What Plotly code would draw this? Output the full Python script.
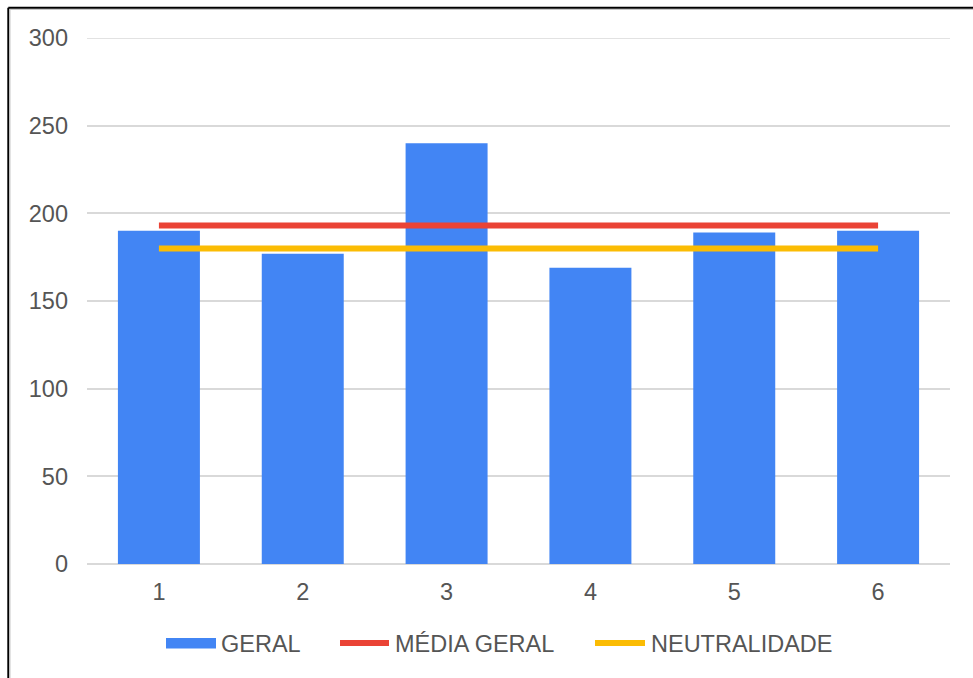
import plotly.graph_objects as go

categories = [1, 2, 3, 4, 5, 6]
geral = [190, 177, 240, 169, 189, 190]
media_geral = [193, 193, 193, 193, 193, 193]
neutralidade = [180, 180, 180, 180, 180, 180]
y_ticks = [0, 50, 100, 150, 200, 250, 300]

BLUE = "#4285F4"
RED = "#EA4335"
YELLOW = "#FBBC04"
TEXT = "#555555"
GRID = "#d9d9d9"
FONT = "Liberation Sans, Arial, sans-serif"

W, H = 973, 678
L, R, T, B = 87, 23, 38, 114
PW, PH = W - L - R, H - T - B


def px(x):
    return (x - L) / PW


def py(y):
    return (H - B - y) / PH


fig = go.Figure()
fig.add_trace(go.Bar(x=categories, y=geral, name="GERAL", marker_color=BLUE,
                     marker_line_width=0, showlegend=False))
fig.add_trace(go.Scatter(x=categories, y=media_geral, name="MÉDIA GERAL", mode="lines",
                         line=dict(color=RED, width=6), showlegend=False))
fig.add_trace(go.Scatter(x=categories, y=neutralidade, name="NEUTRALIDADE", mode="lines",
                         line=dict(color=YELLOW, width=6), showlegend=False))

shapes = [
    # top gridline (at range edge)
    dict(type="line", xref="paper", yref="y", x0=0, x1=1, y0=y_ticks[-1], y1=y_ticks[-1],
         line=dict(color=GRID, width=1.5), layer="below"),
    # frame (top and left border of the screenshot)
    dict(type="line", xref="paper", yref="paper", x0=px(8.3), x1=px(W + 5), y0=py(7.7), y1=py(7.7),
         line=dict(color="#000000", width=2)),
    dict(type="line", xref="paper", yref="paper", x0=px(8.3), x1=px(8.3), y0=py(7.7), y1=py(H + 5),
         line=dict(color="#000000", width=2)),
    dict(type="line", xref="paper", yref="paper", x0=px(10), x1=px(W + 5), y0=py(9.5), y1=py(9.5),
         line=dict(color="#c8c8c8", width=1)),
    dict(type="line", xref="paper", yref="paper", x0=px(10), x1=px(10), y0=py(9.5), y1=py(H + 5),
         line=dict(color="#c8c8c8", width=1)),
    # legend swatches
    dict(type="rect", xref="paper", yref="paper", x0=px(166), x1=px(216), y0=py(638), y1=py(648.5),
         fillcolor=BLUE, line=dict(width=0)),
    dict(type="line", xref="paper", yref="paper", x0=px(340), x1=px(389), y0=py(643), y1=py(643),
         line=dict(color=RED, width=6)),
    dict(type="line", xref="paper", yref="paper", x0=px(595), x1=px(645), y0=py(643), y1=py(643),
         line=dict(color=YELLOW, width=6)),
]

annotations = []
for label, xpos in [("GERAL", 219), ("MÉDIA GERAL", 393), ("NEUTRALIDADE", 649)]:
    annotations.append(dict(text=label, xref="paper", yref="paper", x=px(xpos), y=py(644),
                            xanchor="left", yanchor="middle", showarrow=False,
                            font=dict(family=FONT, size=23.5, color=TEXT)))

fig.update_layout(
    width=W, height=H,
    margin=dict(l=L, r=R, t=T, b=B, pad=0),
    paper_bgcolor="white", plot_bgcolor="white",
    bargap=0.43,
    font=dict(family=FONT, size=23, color=TEXT),
    shapes=shapes,
    annotations=annotations,
    xaxis=dict(range=[0.5, 6.5], tickvals=categories, ticktext=[str(c) for c in categories],
               showgrid=False, zeroline=False, showline=False, ticks="",
               ticklabelstandoff=11, tickfont=dict(family=FONT, size=23.5, color=TEXT)),
    yaxis=dict(range=[0, 300], tickvals=y_ticks, showgrid=True, gridcolor=GRID, gridwidth=1.5,
               zeroline=True, zerolinecolor=GRID, zerolinewidth=1.5, showline=False, ticks="",
               ticklabelstandoff=18, tickfont=dict(family=FONT, size=23.5, color=TEXT)),
)

fig.write_html("out.html")
